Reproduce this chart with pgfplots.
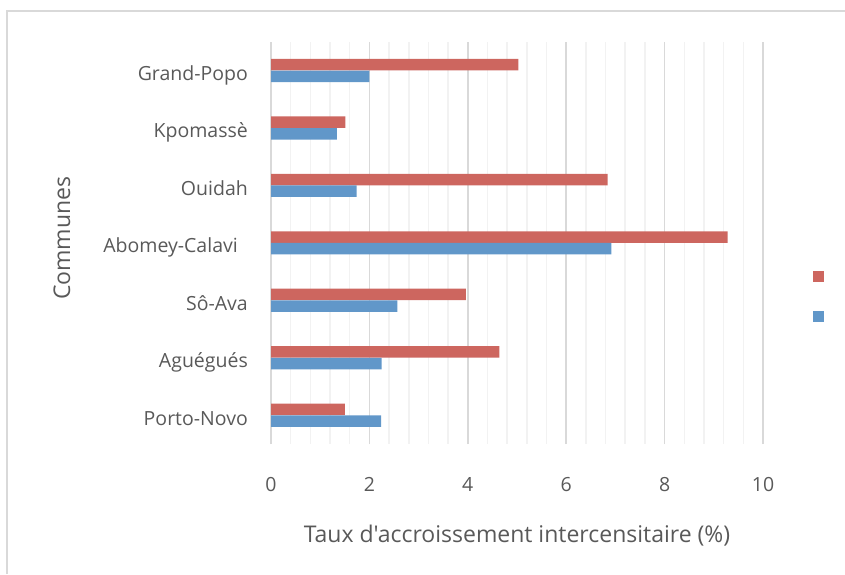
\documentclass[border=0pt]{standalone}
\usepackage{fontspec}
\setmainfont{Open Sans}[Ligatures=TeXOff]
\usepackage{pgfplots}
\pgfplotsset{compat=1.18}
\definecolor{txt}{RGB}{89,89,89}
\definecolor{redbar}{RGB}{205,102,95}
\definecolor{bluebar}{RGB}{97,151,201}
\definecolor{majgrid}{RGB}{217,217,217}
\definecolor{mingrid}{RGB}{242,242,242}
\definecolor{frame}{RGB}{217,217,217}
\newcommand{\cf}{\fontsize{19.5}{23}\selectfont}
\newcommand{\tf}{\fontsize{23}{27}\selectfont}
\newcommand{\abomey}{Abomey-Calavi\kern10pt}
\begin{document}
\begin{tikzpicture}[x=1pt,y=1pt]
\useasboundingbox (0,0) rectangle (845,574);
\draw[frame, line width=1.2pt] (7,0) -- (7,563) -- (845,563);
\begin{axis}[
  at={(271pt,130pt)}, anchor=south west,
  scale only axis,
  width=492pt, height=402.3pt,
  xmin=0, xmax=10,
  ymin=-0.5, ymax=6.5,
  xtick={0,2,4,6,8,10},
  minor x tick num=4,
  ytick={0,1,2,3,4,5,6},
  yticklabels={Porto-Novo, Aguégués, Sô-Ava, \abomey, Ouidah, Kpomassè, Grand-Popo},
  axis line style={draw=none},
  major tick length=0pt, minor tick length=0pt,
  xmajorgrids, xminorgrids,
  major grid style={majgrid, line width=1.5pt},
  minor grid style={mingrid, line width=1.5pt},
  tick label style={txt, font=\cf},
  /pgf/number format/assume math mode=true,
  xticklabel style={anchor=center, yshift=-40.5pt},
  yticklabel style={anchor=base east, inner sep=0pt, xshift=-23pt, yshift=-10pt},
  xlabel={Taux d'accroissement intercensitaire (\%)},
  ylabel={Communes},
  label style={txt, font=\tf},
  xlabel style={at={(axis description cs:0.5,-0.2287)}, anchor=center},
  ylabel style={at={(axis description cs:-0.4248,0.5113)}, anchor=center, rotate=0},
  xbar, bar width=11.5pt,
  legend style={draw=none, fill=none, at={(axis description cs:1.1144,0.3666)}, anchor=center,
    row sep=29pt, nodes={inner sep=0pt}},
  legend image code/.code={\fill[#1,draw=none] (-5.5pt,-5.5pt) rectangle (5.5pt,5.5pt);},
]
\addplot[fill=redbar, draw=none, bar shift=5.85pt] coordinates {
  (1.50,0) (4.64,1) (3.96,2) (9.28,3) (6.84,4) (1.51,5) (5.03,6)};
\addlegendentry{}
\addplot[fill=bluebar, draw=none, bar shift=-5.85pt] coordinates {
  (2.24,0) (2.25,1) (2.57,2) (6.92,3) (1.74,4) (1.34,5) (2.00,6)};
\addlegendentry{}
\end{axis}
\end{tikzpicture}
\end{document}
